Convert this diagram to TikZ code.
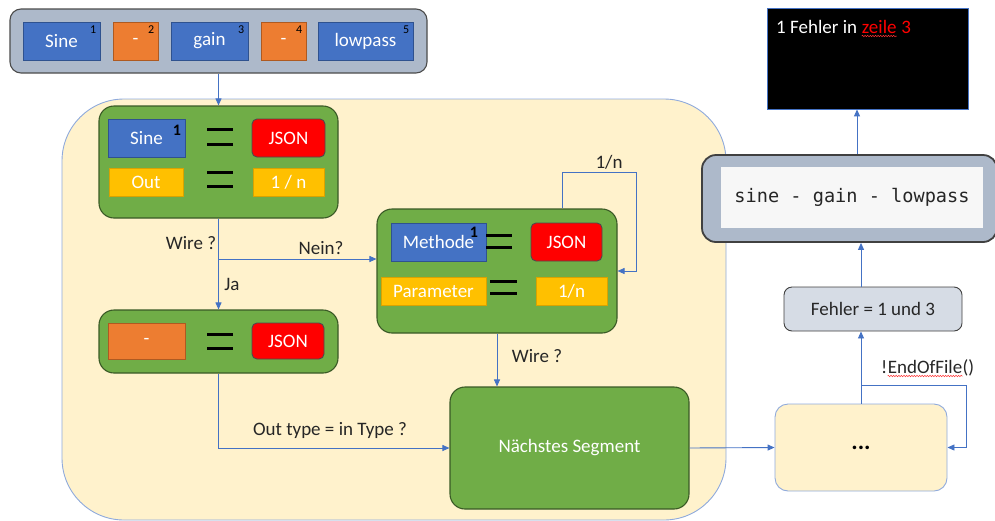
\documentclass[tikz,border=0pt]{standalone}
\usepackage{fontspec}
\setmainfont{Carlito}
\newfontfamily\codefont{DejaVu Sans Mono}
\usetikzlibrary{arrows.meta,decorations.pathmorphing}

\definecolor{cBlue}{HTML}{4472C4}
\definecolor{cBlueB}{HTML}{2F528F}
\definecolor{cOrange}{HTML}{ED7D31}
\definecolor{cOrangeB}{HTML}{AE5A21}
\definecolor{cYellow}{HTML}{FFC000}
\definecolor{cYellowB}{HTML}{D9A300}
\definecolor{cGreen}{HTML}{70AD47}
\definecolor{cGreenB}{HTML}{3A5A26}
\definecolor{cRed}{HTML}{FF0000}
\definecolor{cCream}{HTML}{FFF2CC}
\definecolor{cCreamB}{HTML}{8FAADC}
\definecolor{cSlate}{HTML}{ADB9CA}
\definecolor{cPale}{HTML}{D6DCE5}
\definecolor{cCode}{HTML}{F7F7F7}
\definecolor{cInk}{HTML}{262626}

\tikzset{
  txt/.style={font=\fontsize{19}{22}\selectfont},
  tile/.style={rectangle, inner sep=0pt, text=white, txt},
  bluetile/.style={tile, fill=cBlue, draw=cBlueB, line width=0.8pt},
  orangetile/.style={tile, fill=cOrange, draw=cOrangeB, line width=0.8pt},
  yellowtile/.style={tile, fill=cYellow, draw=cYellowB, line width=0.8pt},
  jsontile/.style={tile, fill=cRed, draw=black!70, line width=0.9pt, rounded corners=5pt},
  greenbox/.style={rectangle, fill=cGreen, draw=cGreenB, line width=1.1pt, rounded corners=15pt, inner sep=0pt},
  supnum/.style={inner sep=0pt, font=\fontsize{12}{12}\selectfont, text=black},
  bignum/.style={inner sep=0pt, font=\fontsize{16}{16}\selectfont\bfseries, text=black},
  eqbar/.style={line width=3pt, black},
  conn/.style={draw=cBlue, line width=0.9pt},
  arr/.style={conn, -{Triangle[length=7pt,width=6pt]}},
  lbl/.style={inner sep=0pt, text=cInk, txt},
  squiggle/.style={draw=red!80, line width=0.5pt, decorate,
    decoration={snake, amplitude=0.7pt, segment length=2.6pt}}
}

\begin{document}
\begin{tikzpicture}[x=1pt,y=-1pt]
\useasboundingbox (0,0) rectangle (995,520);

% segment list at the top
\node[rectangle, fill=cSlate, draw=black!70, line width=1.1pt, rounded corners=11pt,
      minimum width=417pt, minimum height=64pt] (bar) at (218.5,41) {};
\node[bluetile, minimum width=77pt, minimum height=38pt] (s1) at (61.5,41) {Sine};
\node[orangetile, minimum width=45pt, minimum height=38pt] (s2) at (135.5,41) {-};
\node[bluetile, minimum width=77pt, minimum height=38pt] (s3) at (209.5,41) {gain};
\node[orangetile, minimum width=45pt, minimum height=38pt] (s4) at (283.5,41) {-};
\node[bluetile, minimum width=95pt, minimum height=38pt] (s5) at (365.5,41) {lowpass};
\foreach \n in {1,...,5}
  \node[supnum, anchor=north east] (n\n) at ([xshift=-4pt,yshift=-4pt]s\n.north east) {\n};

% processing area
\node[rectangle, fill=cCream, draw=cCreamB, line width=0.9pt, rounded corners=62pt,
      minimum width=664pt, minimum height=421pt, inner sep=0pt] (area) at (394,309.5) {};

% first segment: Sine
\node[greenbox, minimum width=239pt, minimum height=112pt] (g1) at (218.5,162) {};
\node[bluetile, minimum width=77pt, minimum height=38pt] (g1a) at (146.5,138) {Sine};
\node[bignum] (g1n) at (177,130) {1};
\node[jsontile, minimum width=73pt, minimum height=38pt] (g1b) at (288.5,138) {JSON};
\node[yellowtile, minimum width=74pt, minimum height=28pt] (g1c) at (146,182) {Out};
\node[yellowtile, minimum width=71pt, minimum height=28pt] (g1d) at (288.5,182) {1 / n};
\draw[eqbar] (207,129) -- (233,129) (207,144) -- (233,144);
\draw[eqbar] (207,172) -- (233,172) (207,186) -- (233,186);

% second segment: wire
\node[greenbox, minimum width=239pt, minimum height=63pt] (g3) at (218.5,341.5) {};
\node[orangetile, minimum width=77pt, minimum height=36pt] (g3a) at (146.5,341) {-};
\node[jsontile, minimum width=72pt, minimum height=36pt] (g3b) at (288,341) {JSON};
\draw[eqbar] (207,334) -- (233,334) (207,348) -- (233,348);

% method block
\node[greenbox, minimum width=240pt, minimum height=124pt] (g2) at (497,271) {};
\node[bluetile, minimum width=95pt, minimum height=38pt] (g2a) at (438.5,242) {Methode};
\node[bignum] (g2n) at (474,232) {1};
\node[jsontile, minimum width=71pt, minimum height=38pt] (g2b) at (566.5,242) {JSON};
\node[yellowtile, minimum width=105pt, minimum height=28pt] (g2c) at (433.5,291) {Parameter};
\node[yellowtile, minimum width=71pt, minimum height=28pt] (g2d) at (571.5,291) {1/n};
\draw[eqbar] (486,235) -- (512,235) (486,247) -- (512,247);
\draw[eqbar] (490,281) -- (517,281) (490,293) -- (517,293);

% next segment
\node[greenbox, minimum width=239pt, minimum height=122pt, text=white, txt] (nx) at (569.5,448) {Nächstes Segment};

% right column
\node[rectangle, fill=cCream, draw=cCreamB, line width=0.9pt, rounded corners=13pt,
      minimum width=172pt, minimum height=87pt, inner sep=0pt,
      font=\fontsize{24}{24}\selectfont\bfseries] (dots) at (861,447.5) {...};
\node[rectangle, fill=cPale, draw=black!75, line width=0.9pt, rounded corners=8pt,
      minimum width=178pt, minimum height=44pt, inner sep=0pt, text=cInk, txt] (fe) at (873,309) {Fehler = 1 und 3};
\node[rectangle, fill=cSlate, draw=black!75, line width=1.8pt, rounded corners=14pt,
      minimum width=295pt, minimum height=87pt, inner sep=0pt] (code) at (849.5,198.5) {};
\node[rectangle, fill=cCode, minimum width=262pt, minimum height=61pt, inner sep=0pt,
      font=\codefont\fontsize{18.6}{20}\selectfont, text=cInk] (codein) at (852,197.5) {sine - gain - lowpass};
\node[rectangle, fill=black, draw=cBlue, line width=0.8pt, minimum width=201pt,
      minimum height=101pt, inner sep=0pt] (out) at (867.5,58.5) {};
\node[inner sep=0pt, anchor=base west, text=white, txt] (o1) at (776,33) {1 Fehler in};
\node[inner sep=0pt, anchor=base west, text=red, txt] (o2) at ([xshift=4.4pt]o1.base east) {zeile};
\node[inner sep=0pt, anchor=base west, text=red, txt] (o3) at ([xshift=4.4pt]o2.base east) {3};
\draw[squiggle] ([yshift=-3pt]o2.base west) -- ([yshift=-3pt]o2.base east);

% connectors
\draw[arr] (bar.south) -- (g1.north);
\coordinate (br) at (218.5,259);
\draw[arr] (g1.south) -- (g3.north);
\draw[arr] (br) -- (br -| g2.west);
\node[lbl] (wire1) at (191,243) {Wire ?};
\node[lbl] (nein) at (321,248) {Nein?};
\node[lbl] (ja) at (232,284) {Ja};

\coordinate (loop) at (636,172);
\draw[arr] ([xshift=65pt]g2.north) |- (loop) |- (g2.east);
\node[lbl] (loopl) at (609,162) {1/n};

\draw[arr] (g2.south) -- (g2.south |- nx.north);
\node[lbl] (wire2) at (537,356) {Wire ?};

\draw[arr] (g3.south) |- (nx.west);
\node[lbl] (otype) at (330,430) {Out type = in Type ?};

\draw[arr] (nx.east) -- (dots.west);

\coordinate (eb) at (861,385);
\coordinate (ec) at (966,385);
\draw[arr] (dots.north) -- (dots.north |- fe.south);
\draw[arr] (eb) -- (ec) |- (dots.east);
\node[inner sep=0pt, anchor=base west, text=cInk, txt] (e1) at (881,373) {!};
\node[inner sep=0pt, anchor=base west, text=cInk, txt] (e2) at (e1.base east) {EndOfFile};
\node[inner sep=0pt, anchor=base west, text=cInk, txt] (e3) at (e2.base east) {()};
\draw[squiggle] ([yshift=-3pt]e2.base west) -- ([yshift=-3pt]e2.base east);

\draw[arr] (dots.north |- fe.north) -- (dots.north |- code.south);
\draw[arr] ([xshift=7.5pt]code.north) -- ([xshift=7.5pt]code.north |- out.south);
\end{tikzpicture}
\end{document}
